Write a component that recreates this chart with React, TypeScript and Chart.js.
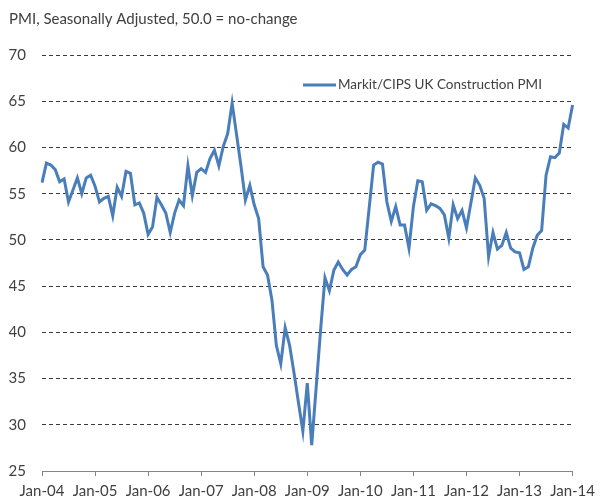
import React, { useEffect, useRef } from "react";
import { Chart, registerables } from "chart.js";

Chart.register(...registerables);

const titleText = "PMI, Seasonally Adjusted, 50.0 = no-change";
const seriesName = "Markit/CIPS UK Construction PMI";
const monthNames = ["Jan", "Feb", "Mar", "Apr", "May", "Jun", "Jul", "Aug", "Sep", "Oct", "Nov", "Dec"];
const years = ["04", "05", "06", "07", "08", "09", "10", "11", "12", "13", "14"];
const tickLabels = ["Jan-04", "Jan-05", "Jan-06", "Jan-07", "Jan-08", "Jan-09", "Jan-10", "Jan-11", "Jan-12", "Jan-13", "Jan-14"];

const pmi2004 = [56.2, 58.3, 58.1, 57.6, 56.3, 56.6, 54.1, 55.4, 56.7, 55.0, 56.7, 57.0];
const pmi2005 = [55.8, 54.1, 54.5, 54.7, 52.6, 55.7, 54.7, 57.4, 57.2, 53.8, 54.0, 52.9];
const pmi2006 = [50.6, 51.4, 54.6, 53.8, 52.9, 50.8, 52.9, 54.3, 53.7, 58.0, 54.8, 57.3];
const pmi2007 = [57.7, 57.3, 58.8, 59.7, 58.0, 60.1, 61.5, 64.8, 61.4, 58.0, 54.3, 55.9];
const pmi2008 = [53.8, 52.3, 47.1, 46.2, 43.5, 38.6, 36.6, 40.5, 38.6, 35.6, 32.4, 29.3];
const pmi2009 = [34.5, 27.8, 34.0, 40.2, 45.9, 44.5, 46.7, 47.6, 46.8, 46.2, 46.8, 47.1];
const pmi2010 = [48.4, 48.9, 53.5, 58.1, 58.4, 58.2, 54.1, 52.0, 53.6, 51.6, 51.6, 49.1];
const pmi2011 = [53.6, 56.4, 56.3, 53.2, 53.9, 53.7, 53.4, 52.7, 50.2, 53.8, 52.3, 53.2];
const pmi2012 = [51.3, 54.0, 56.7, 55.9, 54.5, 48.2, 50.8, 49.0, 49.4, 50.8, 49.1, 48.7];
const pmi2013 = [48.6, 46.8, 47.1, 49.1, 50.5, 51.0, 57.0, 59.0, 58.9, 59.4, 62.5, 62.1];
const pmi2014 = [64.6];

const pmiValues = [
  ...pmi2004, ...pmi2005, ...pmi2006, ...pmi2007, ...pmi2008, ...pmi2009,
  ...pmi2010, ...pmi2011, ...pmi2012, ...pmi2013, ...pmi2014,
];

const categories: string[] = [];
years.forEach((y, yi) => {
  const n = yi === years.length - 1 ? 1 : 12;
  for (let m = 0; m < n; m++) categories.push(`${monthNames[m]}-${y}`);
});

const FONT = "Lato, 'Open Sans', sans-serif";
const TEXT = "#404040";

const legendPlugin = {
  id: "insideLegend",
  afterDraw(chart: any) {
    const ctx = chart.ctx;
    const ca = chart.chartArea;
    const ds = chart.data.datasets[0];
    const x0 = ca.left + 261;
    const y0 = ca.top + 30;
    ctx.save();
    ctx.strokeStyle = ds.borderColor;
    ctx.lineWidth = 3;
    ctx.beginPath();
    ctx.moveTo(x0, y0);
    ctx.lineTo(x0 + 33, y0);
    ctx.stroke();
    ctx.fillStyle = TEXT;
    ctx.font = `13.5px ${FONT}`;
    ctx.textBaseline = "middle";
    ctx.textAlign = "left";
    ctx.fillText(ds.label, x0 + 35, y0);
    ctx.restore();
  },
};

export default function App() {
  const ref = useRef<HTMLCanvasElement | null>(null);
  useEffect(() => {
    if (!ref.current) return;
    const chart = new Chart(ref.current, {
      type: "line",
      data: {
        labels: categories,
        datasets: [
          {
            label: seriesName,
            data: pmiValues,
            borderColor: "#4A7EBB",
            borderWidth: 3,
            pointRadius: 0,
            tension: 0,
            fill: false,
          },
        ],
      },
      options: {
        animation: false,
        responsive: false,
        layout: { padding: { left: 9, right: 21, top: 0, bottom: 0 } },
        plugins: {
          legend: { display: false },
          tooltip: { enabled: false },
          title: {
            display: true,
            text: titleText,
            align: "start",
            color: TEXT,
            font: { family: FONT, size: 15, weight: "normal" },
            padding: { top: 10, bottom: 27 },
          },
        },
        scales: {
          x: {
            type: "category",
            offset: false,
            grid: {
              drawOnChartArea: false,
              drawTicks: true,
              tickLength: 5,
              color: "#868686",
            },
            border: { display: true, color: "#868686", width: 1 },
            ticks: {
              autoSkip: false,
              maxRotation: 0,
              minRotation: 0,
              color: TEXT,
              padding: 6,
              font: { family: FONT, size: 15 },
              callback: (_v: any, i: number) => (i % 12 === 0 ? tickLabels[i / 12] : null),
            },
            afterFit: (s: any) => {
              s.height = 30;
            },
          },
          y: {
            min: 25,
            max: 70,
            ticks: {
              stepSize: 5,
              color: TEXT,
              padding: 16,
              font: { family: FONT, size: 15 },
            },
            grid: {
              drawTicks: false,
              color: (c: any) => (c.tick && c.tick.value === 25 ? "rgba(0,0,0,0)" : "#3a3a3a"),
              lineWidth: 1,
            },
            border: { display: false, dash: [4, 3] },
            afterFit: (s: any) => {
              s.width = 33;
            },
          },
        },
      },
      plugins: [legendPlugin],
    });
    return () => chart.destroy();
  }, []);
  return (
    <div style={{ position: "absolute", left: 0, top: 0, width: 601, height: 501, background: "#fff" }}>
      <canvas ref={ref} width={601} height={501} />
    </div>
  );
}
